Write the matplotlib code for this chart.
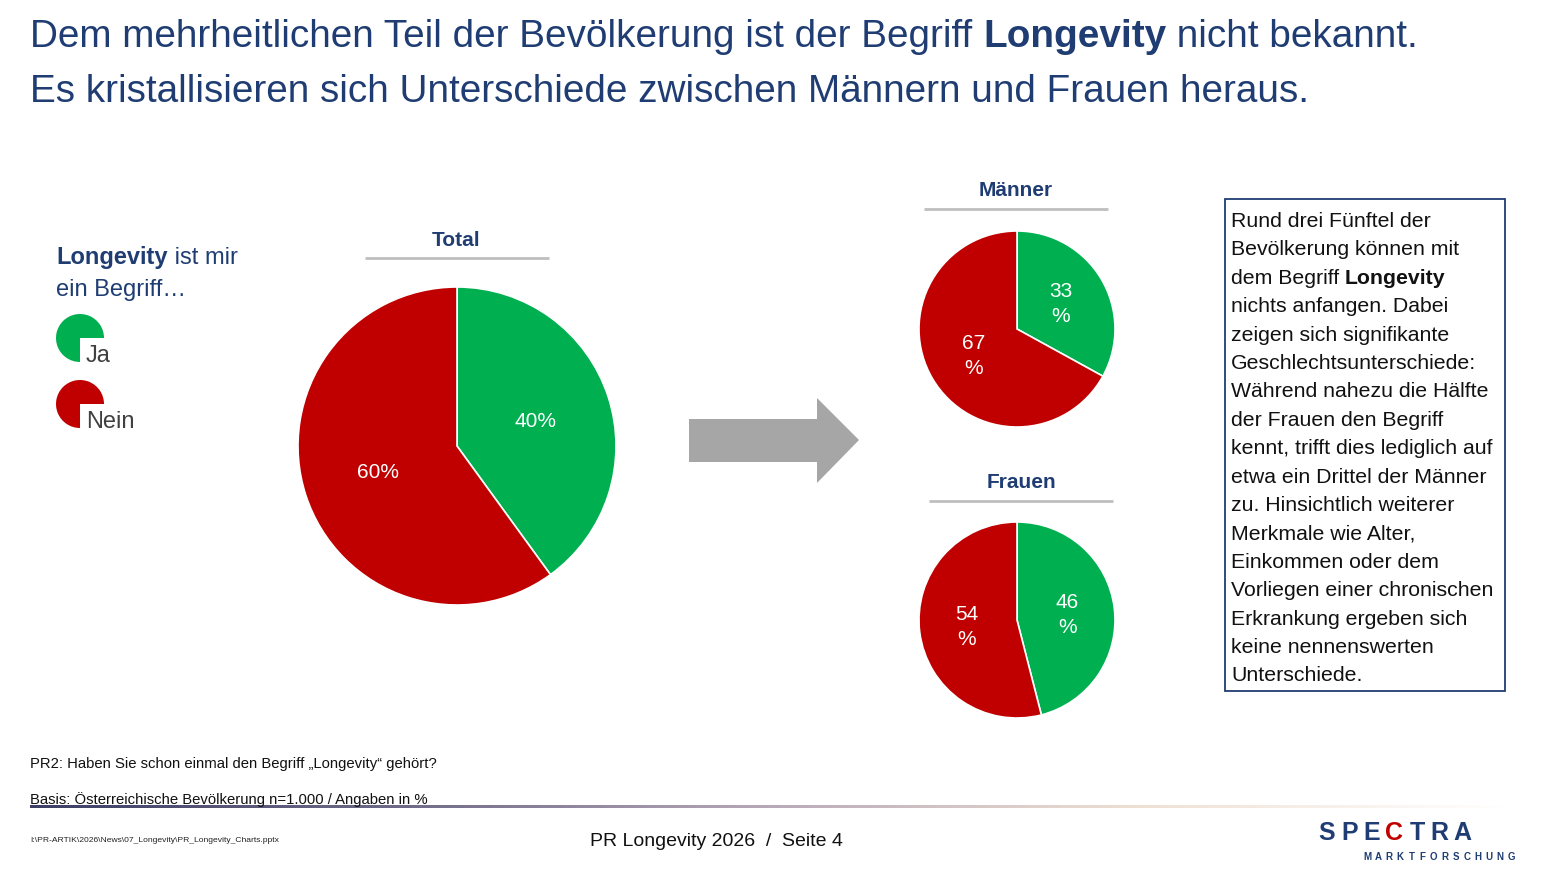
import matplotlib
matplotlib.use("Agg")
import matplotlib.pyplot as plt
import numpy as np
from matplotlib.patches import Wedge, Polygon, Rectangle
from matplotlib.colors import LinearSegmentedColormap

plt.rcParams['font.family'] = ['Liberation Sans', 'DejaVu Sans']

# --- Daten ---
antworten = ["Ja", "Nein"]
total = [40, 60]
maenner = [33, 67]
frauen = [46, 54]

farben = ["#00B050", "#C00000"]
navy = "#1F3D73"

W, H = 1547, 870
fig = plt.figure(figsize=(W / 100, H / 100), dpi=100)
bg = fig.add_axes([0, 0, 1, 1])
bg.set_xlim(0, W)
bg.set_ylim(H, 0)
bg.axis("off")
renderer = fig.canvas.get_renderer()


def mixed_text(x, y, parts, size, color, **kw):
    """Teile (text, bold) hintereinander setzen."""
    for txt, bold in parts:
        t = bg.text(x, y, txt, fontsize=size, color=color, va="baseline",
                    fontweight="bold" if bold else "normal", **kw)
        bb = t.get_window_extent(renderer=renderer)
        x += bb.width


def px_axes(left, top, size):
    return fig.add_axes([left / W, 1 - (top + size) / H, size / W, size / H])


def draw_pie(ax, werte, two_lines):
    fmt = (lambda p: f"{p:.0f}\n%") if two_lines else (lambda p: f"{p:.0f}%")
    ax.pie(werte, colors=farben, startangle=90, counterclock=False,
           autopct=fmt, pctdistance=0.52,
           wedgeprops=dict(edgecolor="white", linewidth=1.2),
           textprops=dict(color="white", fontsize=15, linespacing=1.4))
    ax.set_xlim(-1, 1)
    ax.set_ylim(-1, 1)
    ax.set_aspect("equal")


# --- Titel ---
mixed_text(30, 47, [("Dem mehrheitlichen Teil der Bevölkerung ist der Begriff ", False),
                    ("Longevity", True), (" nicht bekannt.", False)], 27.9, navy)
bg.text(30, 102, "Es kristallisieren sich Unterschiede zwischen Männern und Frauen heraus.",
        fontsize=27.9, color=navy, va="baseline")

# --- Legende ---
mixed_text(56, 264, [("Longevity", True), (" ist mir", False)], 17, navy)
bg.text(56, 296, "ein Begriff…", fontsize=17, color=navy, va="baseline")
for i, (lab, col) in enumerate(zip(antworten, farben)):
    cy = 339 + i * 66
    bg.add_patch(Wedge((80, cy), 24, 90, 360, facecolor=col, edgecolor="none"))
    bg.text(86, cy + 23, lab, fontsize=17, color="#404040", va="baseline")

# --- Kreisdiagramme ---
draw_pie(px_axes(298, 288, 318), total, False)
draw_pie(px_axes(919, 232, 196), maenner, True)
draw_pie(px_axes(919, 523, 196), frauen, True)

for label, cx, cy, x0, x1, ly in [("Total", 456, 240, 365, 549, 259),
                                  ("Männer", 1016, 191, 924, 1108, 210),
                                  ("Frauen", 1021, 483, 929, 1113, 502)]:
    bg.text(cx, cy, label, fontsize=15, fontweight="bold", color=navy, ha="center", va="center")
    bg.plot([x0, x1], [ly, ly], color="#BFBFBF", lw=2, solid_capstyle="butt")

# --- Pfeil ---
bg.add_patch(Polygon([(689, 420), (817, 420), (817, 399), (859, 441), (817, 484),
                      (817, 463), (689, 463)], closed=True, facecolor="#A6A6A6", edgecolor="none"))

# --- Textbox ---
bg.add_patch(Rectangle((1225, 200), 280, 492, facecolor="white", edgecolor="#1F3D73", lw=1.3))
zeilen = [
    [("Rund drei Fünftel der", False)],
    [("Bevölkerung können mit", False)],
    [("dem Begriff ", False), ("Longevity", True)],
    [("nichts anfangen. Dabei", False)],
    [("zeigen sich signifikante", False)],
    [("Geschlechtsunterschiede:", False)],
    [("Während nahezu die Hälfte", False)],
    [("der Frauen den Begriff", False)],
    [("kennt, trifft dies lediglich auf", False)],
    [("etwa ein Drittel der Männer", False)],
    [("zu. Hinsichtlich weiterer", False)],
    [("Merkmale wie Alter,", False)],
    [("Einkommen oder dem", False)],
    [("Vorliegen einer chronischen", False)],
    [("Erkrankung ergeben sich", False)],
    [("keine nennenswerten", False)],
    [("Unterschiede.", False)],
]
for i, z in enumerate(zeilen):
    mixed_text(1231, 227 + i * 28.4, z, 15.3, "#111111")

# --- Fusszeile ---
bg.text(30, 768, "PR2: Haben Sie schon einmal den Begriff „Longevity“ gehört?",
        fontsize=10.7, color="#111111", va="baseline")
bg.text(30, 804, "Basis: Österreichische Bevölkerung n=1.000 / Angaben in %",
        fontsize=10.7, color="#111111", va="baseline")
grad = LinearSegmentedColormap.from_list("g", ["#3d3f66", "#6e6a88", "#b8a9b8", "#efe0d4", "#ffffff"])
bg.imshow(np.linspace(0, 1, 400)[None, :], cmap=grad, aspect="auto",
          extent=(30, 1510, 809.5, 806.5), zorder=1)
bg.set_xlim(0, W)
bg.set_ylim(H, 0)
bg.text(30, 842, r"I:\PR-ARTIK\2026\News\07_Longevity\PR_Longevity_Charts.pptx",
        fontsize=6.1, color="#222222", va="baseline")
bg.text(716, 846, "PR Longevity 2026  /  Seite 4", fontsize=14, color="#111111",
        ha="center", va="baseline")

# --- Logo ---
for i, ch in enumerate("SPECTRA"):
    bg.text(1327 + i * 22.5, 840, ch, fontsize=18, fontweight="bold", ha="center", va="baseline",
            color="#C00000" if ch == "C" else navy)
for i, ch in enumerate("MARKTFORSCHUNG"):
    bg.text(1367 + i * 11.1, 860, ch, fontsize=7, fontweight="bold", ha="center", va="baseline",
            color=navy)

fig.savefig("out.png", dpi=100)
